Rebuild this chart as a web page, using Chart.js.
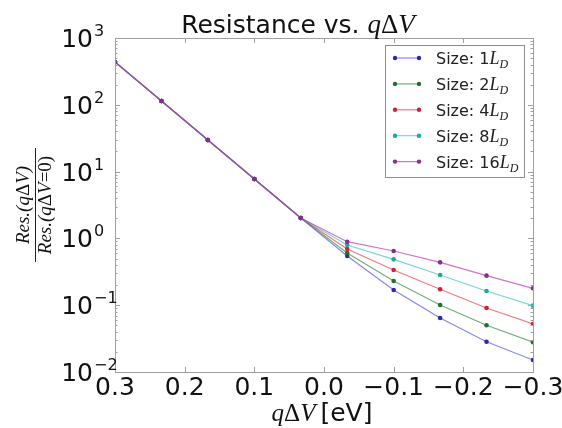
<!DOCTYPE html>
<html lang="en">
<head>
    <meta charset="UTF-8">
    <title>Resistance vs. qΔV</title>
    <script src="https://cdn.jsdelivr.net/npm/chart.js@4.4.1/dist/chart.umd.min.js"></script>
    <style>
        body {
            margin: 0;
            background-color: #fff;
        }
        canvas {
            display: block;
        }
    </style>
</head>
<body>
    <canvas id="myChart" width="562" height="428"></canvas>

    <script>
        // Data
        const xValues = [0.3, 0.2333, 0.1667, 0.1, 0.0333, -0.0333, -0.1, -0.1667, -0.2333, -0.3];
        const sizes = ['1', '2', '4', '8', '16'];
        const res1 = [437, 114, 29.7, 7.74, 2.02, 0.546, 0.169, 0.0643, 0.0284, 0.0151];
        const res2 = [437, 114, 29.7, 7.74, 2.02, 0.604, 0.230, 0.1007, 0.050, 0.0279];
        const res4 = [437, 114, 29.7, 7.74, 2.02, 0.693, 0.336, 0.173, 0.0908, 0.0524];
        const res8 = [437, 114, 29.7, 7.74, 2.02, 0.796, 0.486, 0.283, 0.163, 0.0984];
        const res16 = [437, 114, 29.7, 7.74, 2.02, 0.893, 0.647, 0.438, 0.277, 0.179];

        const xTicks = [0.3, 0.2, 0.1, 0.0, -0.1, -0.2, -0.3];
        const xTickLabels = ['0.3', '0.2', '0.1', '0.0', '\u22120.1', '\u22120.2', '\u22120.3'];
        const yTicks = [0.01, 0.1, 1, 10, 100, 1000];
        const yTickExps = ['-2', '-1', '0', '1', '2', '3'];

        const series = [res1, res2, res4, res8, res16];
        const lineColors = [
            'rgba(70, 70, 225, 0.65)',
            'rgba(40, 130, 50, 0.65)',
            'rgba(235, 50, 60, 0.65)',
            'rgba(40, 195, 195, 0.65)',
            'rgba(185, 40, 175, 0.65)'
        ];
        const pointColors = ['#2a2aa8', '#1f6f35', '#cc2233', '#23a59c', '#8a2a8a'];

        const SANS = '"DejaVu Sans", sans-serif';
        const SERIF_IT = 'italic 25px "Liberation Serif", serif';

        // draw a row of text pieces with different fonts
        function drawRuns(ctx, runs, x, y, align) {
            let total = 0;
            runs.forEach(r => {
                ctx.font = r.font;
                r.w = ctx.measureText(r.text).width + (r.gap || 0);
                total += r.w;
            });
            let cx = align === 'center' ? x - total / 2 : (align === 'right' ? x - total : x);
            runs.forEach(r => {
                ctx.font = r.font;
                ctx.textAlign = 'left';
                ctx.fillText(r.text, cx, y + (r.dy || 0));
                cx += r.w;
            });
        }

        const decorations = {
            id: 'decorations',
            afterDraw(chart) {
                const ctx = chart.ctx;
                const area = chart.chartArea;
                const xs = chart.scales.x;
                const ys = chart.scales.y;
                ctx.save();

                // frame
                ctx.strokeStyle = '#a0a0a0';
                ctx.lineWidth = 1;
                ctx.strokeRect(area.left + 0.5, area.top + 0.5, area.right - area.left, area.bottom - area.top);

                // inward tick marks
                ctx.beginPath();
                xTicks.forEach(v => {
                    const px = Math.round(xs.getPixelForValue(v)) + 0.5;
                    ctx.moveTo(px, area.bottom); ctx.lineTo(px, area.bottom - 5);
                    ctx.moveTo(px, area.top); ctx.lineTo(px, area.top + 5);
                });
                yTicks.forEach((v, i) => {
                    const py = Math.round(ys.getPixelForValue(v)) + 0.5;
                    ctx.moveTo(area.left, py); ctx.lineTo(area.left + 5, py);
                    ctx.moveTo(area.right, py); ctx.lineTo(area.right - 5, py);
                    if (i < yTicks.length - 1) {
                        for (let m = 2; m < 10; m++) {
                            const my = Math.round(ys.getPixelForValue(v * m)) + 0.5;
                            ctx.moveTo(area.left, my); ctx.lineTo(area.left + 2.5, my);
                            ctx.moveTo(area.right, my); ctx.lineTo(area.right - 2.5, my);
                        }
                    }
                });
                ctx.stroke();

                ctx.fillStyle = '#111';
                ctx.textBaseline = 'alphabetic';

                // x tick labels
                ctx.font = '25px ' + SANS;
                ctx.textAlign = 'center';
                xTicks.forEach((v, i) => {
                    ctx.fillText(xTickLabels[i], xs.getPixelForValue(v), 395);
                });

                // y tick labels as 10^n
                yTicks.forEach((v, i) => {
                    const py = ys.getPixelForValue(v);
                    ctx.font = '25px ' + SANS;
                    ctx.textAlign = 'right';
                    ctx.fillText('10', 93, py + 9);
                    ctx.font = '16px ' + SANS;
                    ctx.textAlign = 'left';
                    ctx.fillText(yTickExps[i].replace('-', '\u2212'), 94, py - 2);
                });

                // title
                drawRuns(ctx, [
                    { text: 'Resistance vs. ', font: '25px ' + SANS },
                    { text: 'q', font: 'italic 27px "Liberation Serif", serif' },
                    { text: '\u0394', font: '27px "Liberation Serif", serif' },
                    { text: 'V', font: 'italic 27px "Liberation Serif", serif' }
                ], 298, 33, 'center');

                // x axis label
                drawRuns(ctx, [
                    { text: 'q', font: SERIF_IT },
                    { text: '\u0394', font: '25px "Liberation Serif", serif' },
                    { text: 'V', font: SERIF_IT, gap: 5 },
                    { text: '[eV]', font: '25px ' + SANS }
                ], 322, 421, 'center');

                // y axis label as a fraction, rotated
                ctx.save();
                ctx.translate(35, 205);
                ctx.rotate(-Math.PI / 2);
                const fr = 'italic 19px "Liberation Serif", serif';
                const up = '19px "Liberation Serif", serif';
                drawRuns(ctx, [
                    { text: 'Res.(q', font: fr },
                    { text: '\u0394', font: up },
                    { text: 'V)', font: fr }
                ], 0, -6, 'center');
                drawRuns(ctx, [
                    { text: 'Res.(q', font: fr },
                    { text: '\u0394', font: up },
                    { text: 'V', font: fr },
                    { text: '=0)', font: up }
                ], 0, 16, 'center');
                ctx.beginPath();
                ctx.strokeStyle = '#222';
                ctx.lineWidth = 1;
                ctx.moveTo(-57, 0.5); ctx.lineTo(57, 0.5);
                ctx.stroke();
                ctx.restore();

                // legend
                const lx = 385, ly = 45, lw = 139, lh = 132;
                ctx.fillStyle = '#fff';
                ctx.fillRect(lx, ly, lw, lh);
                ctx.strokeStyle = '#8c8c8c';
                ctx.strokeRect(lx + 0.5, ly + 0.5, lw, lh);
                chart.data.datasets.forEach((ds, i) => {
                    const cy = 58 + i * 25.9;
                    ctx.strokeStyle = ds.borderColor;
                    ctx.lineWidth = 1.2;
                    ctx.beginPath();
                    ctx.moveTo(395, cy); ctx.lineTo(419, cy);
                    ctx.stroke();
                    ctx.fillStyle = ds.pointBackgroundColor;
                    [395, 419].forEach(px => {
                        ctx.beginPath();
                        ctx.arc(px, cy, 2.2, 0, Math.PI * 2);
                        ctx.fill();
                    });
                    ctx.fillStyle = '#222';
                    drawRuns(ctx, [
                        { text: 'Size: ' + sizes[i], font: '16px ' + SANS },
                        { text: 'L', font: 'italic 18px "Liberation Serif", serif' },
                        { text: 'D', font: 'italic 12px "Liberation Serif", serif', dy: 4 }
                    ], 436, cy + 6, 'left');
                });

                ctx.restore();
            }
        };

        const ctx = document.getElementById('myChart').getContext('2d');
        const myChart = new Chart(ctx, {
            type: 'line',
            data: {
                datasets: series.map((vals, i) => ({
                    label: 'Size: ' + sizes[i] + 'L_D',
                    data: xValues.map((x, j) => ({ x: x, y: vals[j] })),
                    borderColor: lineColors[i],
                    borderWidth: 1.2,
                    pointBackgroundColor: pointColors[i],
                    pointBorderWidth: 0,
                    pointRadius: 2.3,
                    tension: 0,
                    order: series.length - i // later sizes drawn on top
                }))
            },
            options: {
                responsive: false,
                animation: false,
                layout: {
                    padding: { left: 115, right: 29, top: 38, bottom: 56 }
                },
                plugins: {
                    legend: { display: false },
                    title: { display: false },
                    tooltip: { enabled: false }
                },
                scales: {
                    x: {
                        type: 'linear',
                        display: false,
                        reverse: true,
                        min: -0.3,
                        max: 0.3
                    },
                    y: {
                        type: 'logarithmic',
                        display: false,
                        min: 0.01,
                        max: 1000
                    }
                }
            },
            plugins: [decorations]
        });
    </script>
</body>
</html>
